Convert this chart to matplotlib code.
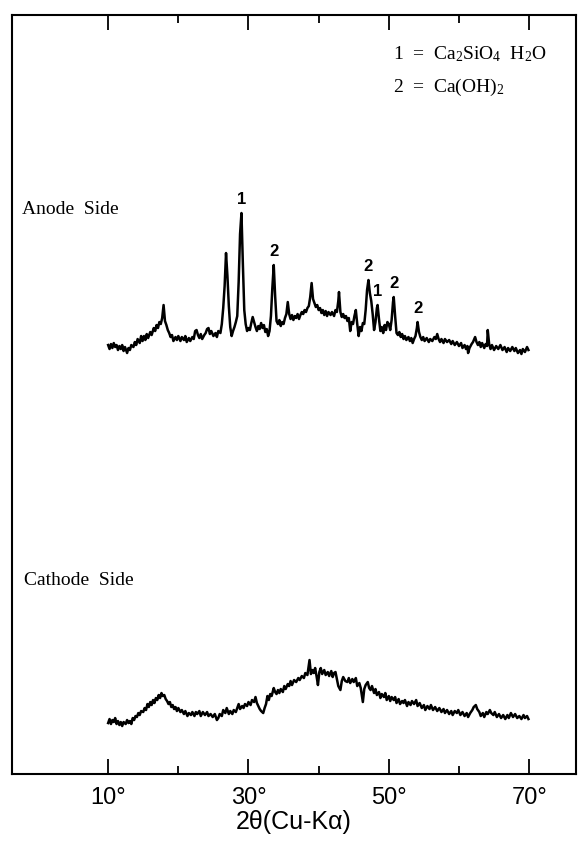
import numpy as np
import matplotlib.pyplot as plt

plt.rcParams['mathtext.fontset'] = 'custom'
plt.rcParams['mathtext.rm'] = 'Liberation Serif'
plt.rcParams['mathtext.it'] = 'Liberation Serif:italic'

# XRD pattern, anode side (2theta in degrees, intensity in arbitrary units)
anode_2theta = [
    10.0, 10.2, 10.4, 10.6, 10.8, 11.0, 11.2, 11.4, 11.6, 11.8, 12.0, 12.2, 12.4, 12.7, 12.9,
    13.1, 13.3, 13.6, 13.8, 14.0, 14.2, 14.5, 14.7, 14.9, 15.1, 15.3, 15.5, 15.7, 16.0, 16.2,
    16.5, 16.7, 16.9, 17.1, 17.3, 17.5, 17.7, 17.9, 18.1, 18.3, 18.5, 18.7, 18.9, 19.1, 19.3,
    19.6, 19.8, 20.0, 20.3, 20.5, 20.8, 21.0, 21.2, 21.5, 21.7, 22.0, 22.2, 22.4, 22.6, 22.8,
    23.0, 23.2, 23.4, 23.7, 23.9, 24.1, 24.3, 24.5, 24.7, 25.0, 25.3, 25.5, 25.7, 26.0, 26.2,
    26.4, 26.6, 26.8, 27.0, 27.2, 27.4, 27.6, 27.8, 28.0, 28.2, 28.4, 28.6, 28.8, 29.0, 29.2,
    29.4, 29.6, 29.8, 30.0, 30.2, 30.4, 30.6, 30.8, 31.0, 31.2, 31.4, 31.6, 31.8, 32.0, 32.2,
    32.4, 32.6, 32.8, 33.0, 33.2, 33.4, 33.6, 33.8, 34.0, 34.2, 34.4, 34.6, 34.8, 35.0, 35.2,
    35.4, 35.6, 35.8, 36.0, 36.2, 36.4, 36.6, 36.8, 37.0, 37.2, 37.4, 37.6, 37.8, 38.0, 38.2,
    38.4, 38.6, 38.8, 39.0, 39.2, 39.4, 39.6, 39.8, 40.0, 40.2, 40.4, 40.6, 40.8, 41.0, 41.2,
    41.4, 41.7, 41.9, 42.2, 42.4, 42.6, 42.8, 42.9, 43.1, 43.3, 43.5, 43.7, 43.9, 44.1, 44.3,
    44.5, 44.7, 44.9, 45.1, 45.3, 45.5, 45.7, 45.9, 46.1, 46.3, 46.5, 46.7, 46.9, 47.1, 47.3,
    47.5, 47.7, 47.9, 48.1, 48.3, 48.4, 48.6, 48.8, 49.0, 49.2, 49.4, 49.6, 49.8, 50.0, 50.2,
    50.4, 50.6, 50.7, 50.9, 51.1, 51.3, 51.5, 51.7, 51.9, 52.1, 52.3, 52.5, 52.8, 53.0, 53.2,
    53.4, 53.6, 53.8, 54.0, 54.1, 54.3, 54.5, 54.7, 54.9, 55.1, 55.4, 55.7, 55.9, 56.2, 56.5,
    56.7, 56.9, 57.1, 57.3, 57.5, 57.8, 58.0, 58.3, 58.6, 58.9, 59.1, 59.4, 59.7, 60.0, 60.3,
    60.5, 60.8, 61.0, 61.2, 61.3, 61.5, 61.8, 62.0, 62.3, 62.5, 62.7, 62.9, 63.1, 63.3, 63.6,
    63.8, 64.0, 64.1, 64.3, 64.5, 64.7, 65.0, 65.3, 65.6, 65.9, 66.2, 66.5, 66.8, 67.0, 67.3,
    67.6, 67.9, 68.1, 68.4, 68.7, 68.9, 69.1, 69.4, 69.7, 69.9,
]
anode_counts = [
    49, 45, 50, 46, 51, 47, 49, 44, 48, 45, 49, 43, 47, 41, 46,
    44, 49, 47, 52, 49, 55, 51, 58, 53, 58, 54, 60, 56, 62, 59,
    66, 63, 69, 66, 72, 70, 76, 89, 73, 69, 64, 61, 57, 59, 53,
    57, 54, 58, 53, 57, 54, 58, 52, 56, 53, 57, 55, 63, 64, 59,
    56, 60, 55, 59, 61, 65, 66, 60, 63, 58, 61, 57, 63, 61, 70,
    86, 108, 141, 118, 88, 67, 58, 63, 67, 72, 78, 112, 160, 181, 130,
    84, 70, 63, 66, 64, 71, 77, 72, 67, 63, 68, 65, 71, 66, 69,
    62, 65, 58, 63, 78, 106, 129, 98, 73, 70, 74, 68, 72, 70, 76,
    80, 92, 80, 75, 79, 74, 78, 76, 80, 75, 79, 82, 80, 84, 82,
    86, 88, 97, 111, 95, 91, 87, 89, 84, 86, 81, 84, 79, 83, 78,
    82, 79, 82, 78, 84, 82, 93, 102, 82, 77, 80, 76, 78, 73, 76,
    63, 72, 70, 78, 84, 70, 58, 67, 63, 71, 70, 84, 104, 114, 101,
    93, 80, 64, 72, 86, 89, 75, 63, 67, 61, 69, 64, 72, 70, 64,
    74, 92, 97, 78, 61, 59, 62, 57, 60, 55, 58, 54, 57, 53, 56,
    51, 55, 58, 66, 72, 62, 57, 54, 57, 53, 56, 52, 55, 53, 57,
    55, 60, 55, 52, 55, 51, 55, 52, 54, 50, 53, 49, 52, 48, 51,
    46, 49, 45, 48, 41, 46, 50, 52, 57, 52, 49, 52, 47, 51, 46,
    50, 48, 64, 50, 45, 49, 44, 48, 45, 49, 44, 47, 42, 46, 43,
    47, 43, 46, 41, 44, 40, 45, 42, 47, 44,
]

# XRD pattern, cathode side
cathode_2theta = [
    10.0, 10.2, 10.4, 10.6, 10.8, 11.0, 11.2, 11.4, 11.6, 11.8, 12.0, 12.2, 12.5, 12.7, 12.9,
    13.1, 13.3, 13.5, 13.7, 13.9, 14.1, 14.3, 14.5, 14.7, 15.0, 15.2, 15.4, 15.6, 15.8, 16.0,
    16.2, 16.4, 16.6, 16.8, 17.0, 17.2, 17.4, 17.6, 17.8, 18.0, 18.2, 18.4, 18.6, 18.8, 19.0,
    19.2, 19.4, 19.6, 19.8, 20.0, 20.3, 20.5, 20.8, 21.0, 21.3, 21.5, 21.8, 22.0, 22.3, 22.5,
    22.7, 23.0, 23.2, 23.5, 23.8, 24.1, 24.3, 24.6, 24.9, 25.2, 25.5, 25.7, 25.9, 26.2, 26.4,
    26.7, 26.9, 27.2, 27.4, 27.7, 27.9, 28.2, 28.4, 28.6, 28.8, 29.1, 29.3, 29.5, 29.8, 30.0,
    30.3, 30.5, 30.8, 31.0, 31.2, 31.4, 31.6, 31.8, 32.1, 32.3, 32.5, 32.7, 32.9, 33.1, 33.3,
    33.6, 33.8, 34.0, 34.2, 34.4, 34.6, 34.9, 35.1, 35.3, 35.6, 35.8, 36.0, 36.2, 36.5, 36.8,
    37.1, 37.3, 37.6, 37.9, 38.1, 38.4, 38.7, 38.9, 39.1, 39.3, 39.5, 39.7, 39.9, 40.1, 40.3,
    40.5, 40.8, 41.0, 41.3, 41.5, 41.8, 42.0, 42.2, 42.4, 42.6, 42.8, 43.1, 43.3, 43.5, 43.8,
    44.1, 44.3, 44.5, 44.8, 45.0, 45.3, 45.5, 45.8, 46.0, 46.3, 46.5, 46.7, 47.0, 47.2, 47.4,
    47.6, 47.9, 48.1, 48.3, 48.6, 48.8, 49.0, 49.3, 49.5, 49.7, 50.0, 50.2, 50.4, 50.7, 50.9,
    51.1, 51.4, 51.6, 51.9, 52.1, 52.3, 52.6, 52.8, 53.1, 53.3, 53.6, 53.9, 54.1, 54.4, 54.7,
    55.0, 55.2, 55.5, 55.8, 56.0, 56.3, 56.6, 56.9, 57.2, 57.5, 57.8, 58.0, 58.3, 58.6, 58.9,
    59.1, 59.4, 59.7, 59.9, 60.2, 60.5, 60.8, 61.1, 61.3, 61.6, 61.9, 62.1, 62.4, 62.6, 62.9,
    63.1, 63.4, 63.6, 63.9, 64.1, 64.4, 64.6, 64.9, 65.1, 65.4, 65.7, 66.0, 66.3, 66.6, 66.9,
    67.1, 67.4, 67.7, 68.0, 68.3, 68.6, 68.9, 69.2, 69.4, 69.7, 69.9,
]
cathode_counts = [
    51, 55, 50, 54, 52, 56, 50, 53, 49, 52, 48, 52, 50, 54, 51,
    53, 50, 56, 54, 58, 57, 61, 59, 63, 62, 66, 64, 70, 67, 72,
    69, 74, 71, 76, 74, 79, 76, 81, 78, 79, 75, 73, 70, 72, 67,
    69, 65, 67, 63, 66, 62, 64, 60, 63, 58, 61, 59, 62, 58, 62,
    60, 63, 58, 62, 59, 62, 58, 60, 57, 60, 54, 56, 60, 58, 64,
    61, 66, 60, 63, 60, 64, 62, 66, 70, 65, 68, 66, 70, 68, 72,
    69, 74, 72, 77, 71, 68, 65, 63, 61, 66, 70, 78, 74, 80, 78,
    86, 82, 80, 84, 81, 85, 82, 88, 85, 90, 88, 93, 89, 94, 92,
    96, 94, 98, 96, 101, 99, 114, 100, 104, 101, 106, 98, 89, 102, 106,
    100, 104, 99, 102, 98, 103, 97, 101, 102, 95, 88, 84, 93, 97, 93,
    92, 96, 91, 95, 92, 96, 88, 91, 86, 72, 85, 89, 92, 86, 84,
    88, 81, 85, 79, 82, 76, 80, 77, 81, 74, 78, 73, 77, 74, 77,
    71, 75, 70, 73, 71, 74, 68, 72, 69, 73, 70, 74, 68, 71, 66,
    69, 64, 68, 65, 69, 64, 67, 63, 66, 62, 65, 61, 64, 60, 63,
    59, 63, 61, 64, 59, 62, 58, 61, 57, 61, 64, 67, 69, 65, 62,
    58, 61, 57, 62, 60, 64, 61, 59, 62, 57, 60, 56, 59, 55, 59,
    56, 61, 57, 60, 56, 58, 55, 59, 56, 58, 55,
]

# identified reflections: 1 = Ca2SiO4 H2O, 2 = Ca(OH)2
peak_2theta = [29.0, 33.6, 47.1, 48.4, 50.7, 54.1]
peak_phase = ['1', '2', '2', '1', '2', '2']

anode_offset = 380

fig = plt.figure(figsize=(5.78, 8.49), dpi=100)
ax = fig.add_axes([0.0208, 0.0883, 0.976, 0.894])

ax.plot(anode_2theta, np.array(anode_counts) + anode_offset, color='black', lw=1.8)
ax.plot(cathode_2theta, cathode_counts, color='black', lw=1.8)

# phase numbers above the peaks
tt = np.array(anode_2theta)
cc = np.array(anode_counts) + anode_offset
for pos, lab in zip(peak_2theta, peak_phase):
    top = cc[np.abs(tt - pos) <= 0.25].max()
    ax.annotate(lab, (pos, top), xytext=(0, 4), textcoords='offset points',
                ha='center', va='bottom', fontsize=12, fontweight='bold',
                family='Liberation Sans')

ax.text(-2.3, 565, 'Anode  Side', fontsize=14, family='Liberation Serif', va='center')
ax.text(-2.0, 194, 'Cathode  Side', fontsize=14, family='Liberation Serif', va='center')

ax.text(0.675, 0.948, r'1  =  Ca$_2$SiO$_4$  H$_2$O', transform=ax.transAxes,
        fontsize=14, family='Liberation Serif', va='center')
ax.text(0.675, 0.904, r'2  =  Ca(OH)$_2$', transform=ax.transAxes,
        fontsize=14, family='Liberation Serif', va='center')

ax.set_xlim(-3.7, 76.7)
ax.set_ylim(0, 759)
ax.set_xticks([10, 30, 50, 70])
ax.set_xticklabels(['10°', '30°', '50°', '70°'], family='Liberation Sans', fontsize=17)
ax.set_xticks([20, 40, 60], minor=True)
ax.tick_params(axis='x', which='major', direction='in', length=11, width=1.3,
               top=True, pad=9)
ax.tick_params(axis='x', which='minor', direction='in', length=6, width=1.3, top=True)
ax.set_yticks([])
ax.set_xlabel('2θ(Cu-Kα)', family='Liberation Sans', fontsize=18, labelpad=1)
for s in ax.spines.values():
    s.set_linewidth(1.5)

fig.savefig('out.png', dpi=100)
